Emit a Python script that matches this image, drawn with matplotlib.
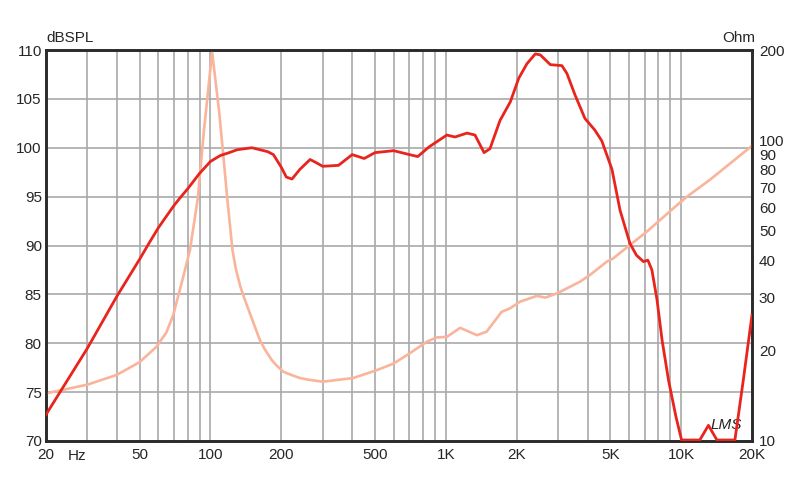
import matplotlib
matplotlib.use("Agg")
import matplotlib.pyplot as plt
from matplotlib.ticker import FixedLocator, NullLocator, FixedFormatter

plt.rcParams['font.family'] = ['Liberation Sans', 'DejaVu Sans']

# SPL response (dB) vs frequency (Hz)
spl_freq = [20, 30, 40, 50, 55, 60, 65, 70, 75, 80, 90, 100, 110, 120, 130,
            150, 175, 185, 200, 210, 222, 240, 265, 280, 300, 350, 400, 450,
            500, 600, 700, 760, 850, 1010, 1094, 1230, 1330, 1454, 1540, 1700,
            1880, 2040, 2212, 2400, 2520, 2780, 3114, 3270, 3540, 3900, 4300,
            4600, 5080, 5500, 6060, 6460, 6920, 7220, 7510, 7890, 8300, 8840,
            9500, 10040, 12000, 13060, 14190, 16920, 18360, 20000]
spl_db = [72.7, 79.5, 84.8, 88.6, 90.3, 91.8, 93.0, 94.1, 95.0, 95.8, 97.4,
          98.6, 99.2, 99.5, 99.8, 100.0, 99.6, 99.3, 98.0, 97.0, 96.8, 97.8,
          98.8, 98.5, 98.1, 98.2, 99.3, 98.9, 99.5, 99.7, 99.3, 99.1, 100.1,
          101.3, 101.1, 101.5, 101.3, 99.5, 99.9, 102.8, 104.7, 107.1, 108.6,
          109.6, 109.5, 108.5, 108.4, 107.6, 105.4, 103.0, 101.8, 100.7, 97.8,
          93.6, 90.2, 89.0, 88.35, 88.5, 87.5, 84.5, 80.3, 76.2, 72.5, 70.1,
          70.1, 71.6, 70.1, 70.1, 76.2, 82.9]

# Impedance (Ohm) vs frequency (Hz)
imp_freq = [20, 30, 40, 50, 59, 65, 69.5, 76.6, 81.8, 88.4, 93.8, 101.6,
            108.8, 114.2, 118, 124, 128, 134, 140, 147, 155, 162, 170, 182,
            190, 204, 220, 240, 260, 300, 404, 508, 600, 704, 830, 914, 1010,
            1150, 1356, 1490, 1726, 1870, 2070, 2440, 2650, 2970, 3720, 4100,
            4830, 5140, 6060, 7140, 9270, 10580, 13220, 20000]
imp_ohm = [14.4, 15.4, 16.6, 18.3, 20.6, 23.0, 26.3, 35.2, 43.2, 64.5, 108,
           197, 125, 83.8, 63.4, 43.2, 37.5, 32.6, 29.5, 26.6, 23.8, 21.7,
           20.2, 18.6, 17.9, 17.0, 16.6, 16.2, 16.0, 15.75, 16.2, 17.2, 18.1,
           19.6, 21.4, 22.1, 22.2, 23.8, 22.5, 23.1, 26.9, 27.6, 29.1, 30.4,
           30.0, 31.0, 33.9, 35.7, 39.5, 40.5, 44.9, 49.7, 59.5, 65, 73.9, 96]

x_ticks = [20, 50, 100, 200, 500, 1000, 2000, 5000, 10000, 20000]
x_labels = ['20', '50', '100', '200', '500', '1K', '2K', '5K', '10K', '20K']
x_grid = [30, 40, 50, 60, 70, 80, 90, 100, 200, 300, 400, 500, 600, 700, 800,
          900, 1000, 2000, 3000, 4000, 5000, 6000, 7000, 8000, 9000, 10000]
left_ticks = [70, 75, 80, 85, 90, 95, 100, 105, 110]
right_ticks = [10, 20, 30, 40, 50, 60, 70, 80, 90, 100, 200]

TXT = '#262626'
GRID = '#a9a9a9'
FRAME = '#2b2b2b'

fig = plt.figure(figsize=(8.0, 4.84), dpi=100)
ax = fig.add_axes([46/800, 43/484, 706/800, 391/484])
ax.set_xscale('log')
ax.set_xlim(20, 20000)
ax.set_ylim(70, 110)
ax.xaxis.set_major_locator(FixedLocator(x_ticks))
ax.xaxis.set_major_formatter(FixedFormatter(x_labels))
ax.xaxis.set_minor_locator(NullLocator())
ax.yaxis.set_major_locator(FixedLocator(left_ticks))
ax.tick_params(axis='both', length=0, labelsize=11, labelcolor=TXT)
ax.tick_params(axis='x', pad=5)
ax.tick_params(axis='y', pad=3)
for g in x_grid:
    ax.axvline(g, color=GRID, lw=1.2, zorder=1)
for t in left_ticks[1:-1]:
    ax.axhline(t, color=GRID, lw=1.2, zorder=1)
for s in ax.spines.values():
    s.set_color(FRAME)
    s.set_linewidth(1.9)

ax2 = ax.twinx()
ax2.set_yscale('log')
ax2.set_ylim(10, 200)
ax2.yaxis.set_major_locator(FixedLocator(right_ticks))
ax2.yaxis.set_major_formatter(FixedFormatter([str(v) for v in right_ticks]))
ax2.yaxis.set_minor_locator(NullLocator())
ax2.tick_params(axis='y', length=0, labelsize=11, labelcolor=TXT, pad=5)
for s in ax2.spines.values():
    s.set_color(FRAME)
    s.set_linewidth(1.9)
ax2.patch.set_visible(False)

ax2.plot(imp_freq, imp_ohm, color='#f9b49b', lw=1.9, zorder=2,
         solid_joinstyle='round')
ax2.plot(spl_freq, spl_db, color='#e8241d', lw=2.0, zorder=3,
         transform=ax.transData, solid_joinstyle='round')

ax.annotate('Hz', xy=(20, 0), xycoords=('data', 'axes fraction'),
            xytext=(16, -6), textcoords='offset points', ha='left', va='top',
            fontsize=11, color=TXT)
ax.text(0.0, 1.012, 'dBSPL', transform=ax.transAxes, ha='left', va='bottom',
        fontsize=11, color=TXT)
ax.text(1.005, 1.012, 'Ohm', transform=ax.transAxes, ha='right', va='bottom',
        fontsize=11, color=TXT)
ax.text(0.941, 0.022, 'LMS', transform=ax.transAxes, ha='left', va='bottom',
        fontsize=11, color=TXT, style='italic', zorder=5)

fig.savefig('out.png', dpi=100)
